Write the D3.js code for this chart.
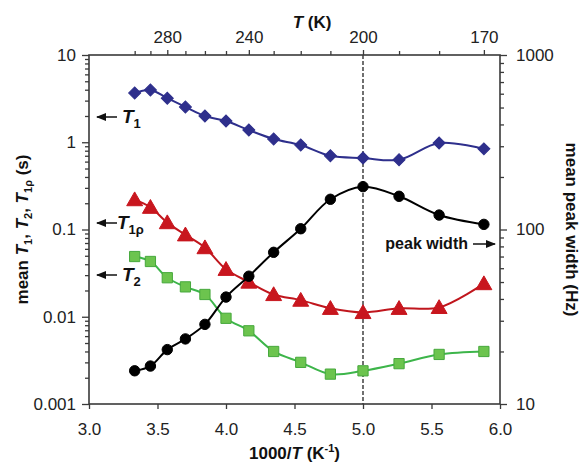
<!DOCTYPE html>
<html>
<head>
<meta charset="utf-8">
<script src="https://cdn.jsdelivr.net/npm/d3@7"></script>
<style>
    body { margin: 0; background: #fff; }
    text { font-family: "Liberation Sans", Arial, Helvetica, sans-serif; }
</style>
</head>
<body>
<div id="chart"></div>
<script>
// measurement temperatures (K); x position is 1000/T
const temps = [300, 290, 280, 270, 260, 250, 240, 230, 220, 210, 200, 190, 180, 170];

// left axis series (s)
const t1 = [3.67, 3.97, 3.2, 2.54, 2.0, 1.75, 1.38, 1.09, 0.93, 0.70, 0.66, 0.63, 0.98, 0.84];
const t1rho = [0.22, 0.18, 0.12, 0.087, 0.062, 0.035, 0.025, 0.018, 0.0155, 0.0125, 0.0112, 0.0125, 0.0128, 0.024];
const t2 = [0.049, 0.043, 0.028, 0.022, 0.018, 0.0096, 0.0069, 0.0040, 0.0030, 0.0022, 0.0024, 0.0029, 0.0037, 0.0040];

// right axis series (Hz)
const peakWidth = [15.5, 16.5, 20.5, 23.6, 28.6, 41, 54, 74, 101, 149, 176, 155, 121, 107];

// ticks
const xTicks = [3.0, 3.5, 4.0, 4.5, 5.0, 5.5, 6.0];
const leftTicks = [10, 1, 0.1, 0.01, 0.001];
const rightTicks = [1000, 100, 10];
const topLabelT = [280, 240, 200, 170];
const topMinorT = [300, 290, 270, 260, 250, 230, 220, 210, 190, 180];
const markerX = 5.0;

const width = 584;
const height = 462;

const svg = d3.select('#chart').append('svg')
    .attr('width', width)
    .attr('height', height);

// scales
const x = d3.scaleLinear().domain([3, 6]).range([89, 500]);
const yL = d3.scaleLog().domain([0.001, 10]).range([404, 55]);
const yR = d3.scaleLog().domain([10, 1000]).range([404, 55]);

const axisColor = '#3a3a3a';
const pts = temps.map(t => 1000 / t);

// dashed marker line
svg.append('line')
    .attr('x1', x(markerX)).attr('x2', x(markerX))
    .attr('y1', yL(10)).attr('y2', yL(0.001))
    .attr('stroke', '#111')
    .attr('stroke-width', 1.2)
    .attr('stroke-dasharray', '4,2');

// frame
svg.append('rect')
    .attr('x', x(3)).attr('y', yL(10))
    .attr('width', x(6) - x(3)).attr('height', yL(0.001) - yL(10))
    .attr('fill', 'none')
    .attr('stroke', axisColor)
    .attr('stroke-width', 1.6);

function styleAxis(g) {
    g.select('.domain').remove();
    g.selectAll('line').attr('stroke', axisColor).attr('stroke-width', 1.3);
    g.selectAll('text')
        .attr('fill', '#222')
        .style('font-size', '17px');
}

// bottom axis
svg.append('g')
    .attr('transform', `translate(0,${yL(0.001)})`)
    .call(d3.axisBottom(x).tickValues(xTicks).tickFormat(d3.format('.1f')).tickSize(5).tickPadding(14))
    .call(styleAxis);

// top axis (temperature)
svg.append('g')
    .attr('transform', `translate(0,${yL(10)})`)
    .call(d3.axisTop(x).tickValues(topMinorT.map(t => 1000 / t)).tickFormat('').tickSize(4))
    .call(styleAxis);
svg.append('g')
    .attr('transform', `translate(0,${yL(10)})`)
    .call(d3.axisTop(x).tickValues(topLabelT.map(t => 1000 / t)).tickFormat((d, i) => topLabelT[i]).tickSize(5).tickPadding(7))
    .call(styleAxis);

// left axis
const leftMinor = yL.ticks().filter(v => leftTicks.indexOf(v) < 0);
svg.append('g')
    .attr('transform', `translate(${x(3)},0)`)
    .call(d3.axisLeft(yL).tickValues(leftMinor).tickFormat('').tickSize(4))
    .call(styleAxis);
svg.append('g')
    .attr('transform', `translate(${x(3)},0)`)
    .call(d3.axisLeft(yL).tickValues(leftTicks).tickFormat(d => String(d)).tickSize(7).tickPadding(6))
    .call(styleAxis);

// right axis
const rightMinor = yR.ticks().filter(v => rightTicks.indexOf(v) < 0);
svg.append('g')
    .attr('transform', `translate(${x(6)},0)`)
    .call(d3.axisRight(yR).tickValues(rightMinor).tickFormat('').tickSize(4))
    .call(styleAxis);
svg.append('g')
    .attr('transform', `translate(${x(6)},0)`)
    .call(d3.axisRight(yR).tickValues(rightTicks).tickFormat(d => String(d)).tickSize(7).tickPadding(9))
    .call(styleAxis);

// series (diamonds are squares turned 45 degrees)
const series = [
    { values: t1, y: yL, line: '#2e2f8c', fill: '#2e2f8c', stroke: '#2e2f8c', symbol: d3.symbolSquare, size: 72, rot: 45, dy: 0 },
    { values: t1rho, y: yL, line: '#c0161d', fill: '#c8161e', stroke: '#c8161e', symbol: d3.symbolTriangle, size: 110, rot: 0, dy: 1.5 },
    { values: t2, y: yL, line: '#3db54a', fill: '#6cc44e', stroke: '#46a83c', symbol: d3.symbolSquare, size: 105, rot: 0, dy: 0 },
    { values: peakWidth, y: yR, line: '#000', fill: '#000', stroke: '#000', symbol: d3.symbolCircle, size: 85, rot: 0, dy: 0 }
];

series.forEach(s => {
    const line = d3.line()
        .x((d, i) => x(pts[i]))
        .y(d => s.y(d))
        .curve(d3.curveCatmullRom.alpha(0.5));

    svg.append('path')
        .datum(s.values)
        .attr('fill', 'none')
        .attr('stroke', s.line)
        .attr('stroke-width', 2)
        .attr('d', line);

    svg.append('g').selectAll('path')
        .data(s.values)
        .enter()
        .append('path')
        .attr('d', d3.symbol().type(s.symbol).size(s.size))
        .attr('transform', (d, i) => `translate(${x(pts[i])},${s.y(d) + s.dy}) rotate(${s.rot})`)
        .attr('fill', s.fill)
        .attr('stroke', s.stroke)
        .attr('stroke-width', 1);
});

// arrowhead
svg.append('defs').append('marker')
    .attr('id', 'arrow')
    .attr('viewBox', '0 0 10 10')
    .attr('refX', 9).attr('refY', 5)
    .attr('markerWidth', 7).attr('markerHeight', 7)
    .attr('orient', 'auto')
    .append('path')
    .attr('d', 'M0,1 L10,5 L0,9 Z')
    .attr('fill', '#111');

function arrow(x1, x2, y) {
    svg.append('line')
        .attr('x1', x1).attr('x2', x2)
        .attr('y1', y).attr('y2', y)
        .attr('stroke', '#111')
        .attr('stroke-width', 1.5)
        .attr('marker-end', 'url(#arrow)');
}

function seriesLabel(xp, y, sub) {
    const t = svg.append('text')
        .attr('x', xp).attr('y', y)
        .attr('font-weight', 'bold')
        .style('font-size', '19px')
        .attr('fill', '#111');
    t.append('tspan').attr('font-style', 'italic').text('T');
    t.append('tspan').attr('dy', 5).style('font-size', '13px').text(sub);
}

// left annotations
arrow(117, 97, 117);
seriesLabel(122, 123, '1');
arrow(117, 97, 223);
seriesLabel(117, 229, '1ρ');
arrow(117, 97, 275);
seriesLabel(122, 281, '2');

// peak width annotation
svg.append('text')
    .attr('x', 468).attr('y', 249)
    .attr('text-anchor', 'end')
    .attr('font-weight', 'bold')
    .style('font-size', '16px')
    .attr('fill', '#111')
    .text('peak width');
arrow(473, 495, 244);

// axis titles
const bottomTitle = svg.append('text')
    .attr('x', (x(3) + x(6)) / 2).attr('y', 459)
    .attr('text-anchor', 'middle')
    .attr('font-weight', 'bold')
    .style('font-size', '17px')
    .attr('fill', '#111');
bottomTitle.append('tspan').text('1000/');
bottomTitle.append('tspan').attr('font-style', 'italic').text('T');
bottomTitle.append('tspan').text(' (K');
bottomTitle.append('tspan').attr('dy', -7).style('font-size', '11px').text('-1');
bottomTitle.append('tspan').attr('dy', 7).text(')');

const topTitle = svg.append('text')
    .attr('x', 312).attr('y', 28)
    .attr('text-anchor', 'middle')
    .attr('font-weight', 'bold')
    .style('font-size', '17px')
    .attr('fill', '#111');
topTitle.append('tspan').attr('font-style', 'italic').text('T');
topTitle.append('tspan').text(' (K)');

const leftTitle = svg.append('text')
    .attr('transform', `translate(28,${(yL(10) + yL(0.001)) / 2}) rotate(-90)`)
    .attr('text-anchor', 'middle')
    .attr('font-weight', 'bold')
    .style('font-size', '17px')
    .attr('fill', '#111');
leftTitle.append('tspan').text('mean ');
leftTitle.append('tspan').attr('font-style', 'italic').text('T');
leftTitle.append('tspan').attr('dy', 4).style('font-size', '11px').text('1');
leftTitle.append('tspan').attr('dy', -4).text(', ');
leftTitle.append('tspan').attr('font-style', 'italic').text('T');
leftTitle.append('tspan').attr('dy', 4).style('font-size', '11px').text('2');
leftTitle.append('tspan').attr('dy', -4).text(', ');
leftTitle.append('tspan').attr('font-style', 'italic').text('T');
leftTitle.append('tspan').attr('dy', 4).style('font-size', '11px').text('1ρ');
leftTitle.append('tspan').attr('dy', -4).text(' (s)');

svg.append('text')
    .attr('transform', `translate(566,${(yR(10) + yR(1000)) / 2}) rotate(90)`)
    .attr('text-anchor', 'middle')
    .attr('font-weight', 'bold')
    .style('font-size', '17px')
    .attr('fill', '#111')
    .text('mean peak width (Hz)');
</script>
</body>
</html>
